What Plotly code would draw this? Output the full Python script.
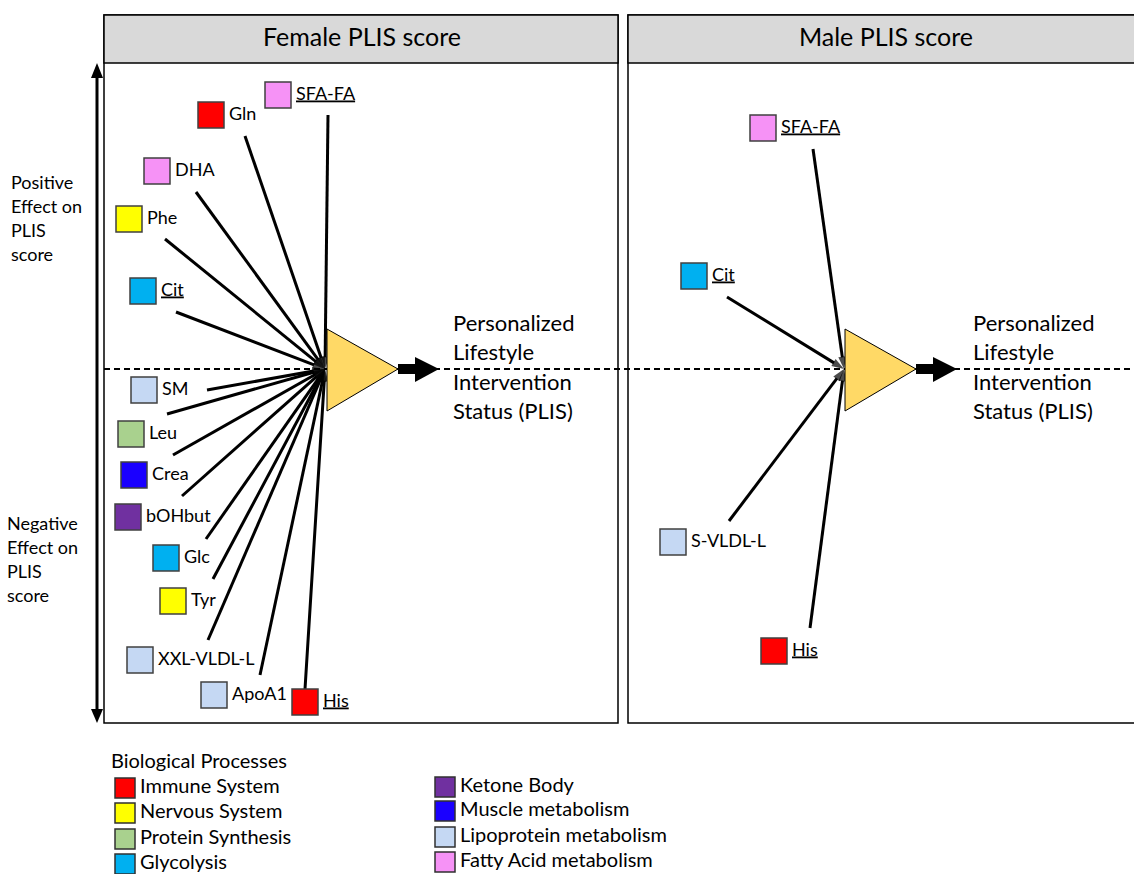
import plotly.graph_objects as go

# ---------------- data ----------------
process_names = ["Immune System", "Nervous System", "Protein Synthesis", "Glycolysis",
                 "Ketone Body", "Muscle metabolism", "Lipoprotein metabolism", "Fatty Acid metabolism"]
process_colors = ["#FF0000", "#FFFF00", "#A9D18E", "#00B0F0",
                  "#7030A0", "#1A00FF", "#C5D8F3", "#F692F6"]

female_metabolites = ["SFA-FA", "Gln", "DHA", "Phe", "Cit", "SM", "Leu", "Crea",
                      "bOHbut", "Glc", "Tyr", "XXL-VLDL-L", "ApoA1", "His"]
female_process = ["Fatty Acid metabolism", "Immune System", "Fatty Acid metabolism", "Nervous System",
                  "Glycolysis", "Lipoprotein metabolism", "Protein Synthesis", "Muscle metabolism",
                  "Ketone Body", "Glycolysis", "Nervous System", "Lipoprotein metabolism",
                  "Lipoprotein metabolism", "Immune System"]
female_underlined = ["SFA-FA", "Cit", "His"]

male_metabolites = ["SFA-FA", "Cit", "S-VLDL-L", "His"]
male_process = ["Fatty Acid metabolism", "Glycolysis", "Lipoprotein metabolism", "Immune System"]
male_underlined = ["SFA-FA", "Cit", "His"]

panel_titles = ["Female PLIS score", "Male PLIS score"]
outcome_lines = ["Personalized", "Lifestyle", "Intervention", "Status (PLIS)"]
positive_lines = ["Positive", "Effect on", "PLIS", "score"]
negative_lines = ["Negative", "Effect on", "PLIS", "score"]
legend_title = "Biological Processes"

# ---------------- layout (pixel positions of the diagram) ----------------
female_node_x = [278, 211, 157, 129, 143, 144, 131, 134, 128, 166, 173, 140, 214, 305]
female_node_y = [95, 115, 171, 219, 291, 390, 434, 475, 517, 558, 601, 660, 695, 702]
female_edge_x = [328, 245, 196, 165, 176, 207, 167, 173, 182, 206, 213, 208, 260, 305]
female_edge_y = [115, 136, 192, 239, 312, 390, 414, 455, 496, 539, 579, 640, 675, 689]
female_hub = (325, 369)

male_node_x = [763, 694, 673, 774]
male_node_y = [128, 276, 542, 651]
male_edge_x = [813, 727, 729, 810]
male_edge_y = [149, 297, 521, 628]
male_hub = (844, 369)

FONT = "Lato"
color_of = dict(zip(process_names, process_colors))

fig = go.Figure()
shapes = []

# panels
for (x0, x1) in [(104, 618), (628, 1140)]:
    shapes.append(dict(type="rect", x0=x0, x1=x1, y0=15, y1=723, line=dict(color="black", width=1.5),
                       fillcolor="rgba(0,0,0,0)", layer="below"))
    shapes.append(dict(type="rect", x0=x0, x1=x1, y0=15, y1=63, line=dict(color="black", width=1.5),
                       fillcolor="#D9D9D9", layer="below"))

# dashed midline
shapes.append(dict(type="line", x0=104, x1=1134, y0=369, y1=369,
                   line=dict(color="black", width=1.8, dash="6px,4px"), layer="below"))

# triangles + output arrows
for tx in [327, 845]:
    shapes.append(dict(type="path", path=f"M {tx},329 L {tx},411 L {tx+71},369 Z",
                       fillcolor="#FFD966", line=dict(color="black", width=1), layer="above"))
    shapes.append(dict(type="rect", x0=tx+71, x1=tx+90, y0=364, y1=374,
                       fillcolor="black", line=dict(width=0)))
    shapes.append(dict(type="path", path=f"M {tx+88},357 L {tx+88},382 L {tx+112},369 Z",
                       fillcolor="black", line=dict(width=0)))

# left double arrow
shapes.append(dict(type="line", x0=97, x1=97, y0=76, y1=712, line=dict(color="black", width=3)))
shapes.append(dict(type="path", path="M 91,78 L 103,78 L 97,63 Z", fillcolor="black", line=dict(width=0)))
shapes.append(dict(type="path", path="M 91,709 L 103,709 L 97,723 Z", fillcolor="black", line=dict(width=0)))

# edges
def add_edges(ex, ey, hub):
    for x0, y0 in zip(ex, ey):
        fig.add_trace(go.Scatter(
            x=[x0, hub[0]], y=[y0, hub[1]], mode="lines+markers",
            line=dict(color="black", width=3),
            marker=dict(symbol="arrow", angleref="previous", size=[0, 13], color="black",
                        line=dict(width=0, color="black")),
            hoverinfo="skip", showlegend=False))

add_edges(female_edge_x, female_edge_y, female_hub)
add_edges(male_edge_x, male_edge_y, male_hub)

def add_nodes(names, procs, nx, ny, underlined):
    fig.add_trace(go.Scatter(
        x=nx, y=ny, mode="markers",
        marker=dict(symbol="square", size=26, color=[color_of[p] for p in procs],
                    line=dict(color="#404040", width=1.5)),
        hoverinfo="skip", showlegend=False))
    labels = [f'<span style="text-decoration:underline">{n}</span>' if n in underlined else n for n in names]
    fig.add_trace(go.Scatter(
        x=[x + 18 for x in nx], y=ny, mode="text", text=labels, textposition="middle right",
        textfont=dict(family=FONT, size=18, color="black"), hoverinfo="skip", showlegend=False))

add_nodes(female_metabolites, female_process, female_node_x, female_node_y, female_underlined)
add_nodes(male_metabolites, male_process, male_node_x, male_node_y, male_underlined)

# panel titles
fig.add_trace(go.Scatter(x=[362, 886], y=[40, 40], mode="text", text=panel_titles,
                         textposition="middle center",
                         textfont=dict(family=FONT, size=25, color="black"),
                         hoverinfo="skip", showlegend=False))

# outcome texts
for ox in [453, 973]:
    fig.add_trace(go.Scatter(x=[ox] * 4, y=[325 + 29.5 * i for i in range(4)], mode="text",
                             text=outcome_lines, textposition="middle right",
                             textfont=dict(family=FONT, size=22, color="black"),
                             hoverinfo="skip", showlegend=False))

# side texts
fig.add_trace(go.Scatter(x=[11] * 4, y=[184 + 24 * i for i in range(4)], mode="text",
                         text=positive_lines, textposition="middle right",
                         textfont=dict(family=FONT, size=18, color="black"),
                         hoverinfo="skip", showlegend=False))
fig.add_trace(go.Scatter(x=[7] * 4, y=[525 + 24 * i for i in range(4)], mode="text",
                         text=negative_lines, textposition="middle right",
                         textfont=dict(family=FONT, size=18, color="black"),
                         hoverinfo="skip", showlegend=False))

# legend
fig.add_trace(go.Scatter(x=[111], y=[763], mode="text", text=[legend_title], textposition="middle right",
                         textfont=dict(family=FONT, size=20, color="black"),
                         hoverinfo="skip", showlegend=False))
leg_x = [125] * 4 + [445] * 4
leg_y = [788, 813, 839, 864, 787, 811, 837, 862]
fig.add_trace(go.Scatter(x=leg_x, y=leg_y, mode="markers",
                         marker=dict(symbol="square", size=20, color=process_colors,
                                     line=dict(color="#303030", width=1.5)),
                         hoverinfo="skip", showlegend=False))
fig.add_trace(go.Scatter(x=[x + 15 for x in leg_x], y=leg_y, mode="text", text=process_names,
                         textposition="middle right",
                         textfont=dict(family=FONT, size=20, color="black"),
                         hoverinfo="skip", showlegend=False))

fig.update_layout(
    width=1134, height=874, margin=dict(l=0, r=0, t=0, b=0),
    paper_bgcolor="white", plot_bgcolor="white",
    xaxis=dict(range=[0, 1134], visible=False, fixedrange=True),
    yaxis=dict(range=[874, 0], visible=False, fixedrange=True),
    shapes=shapes, showlegend=False,
)

fig.write_html("out.html", config={"displayModeBar": False},
               post_script="document.body.style.margin='0';document.body.style.overflow='hidden';")
